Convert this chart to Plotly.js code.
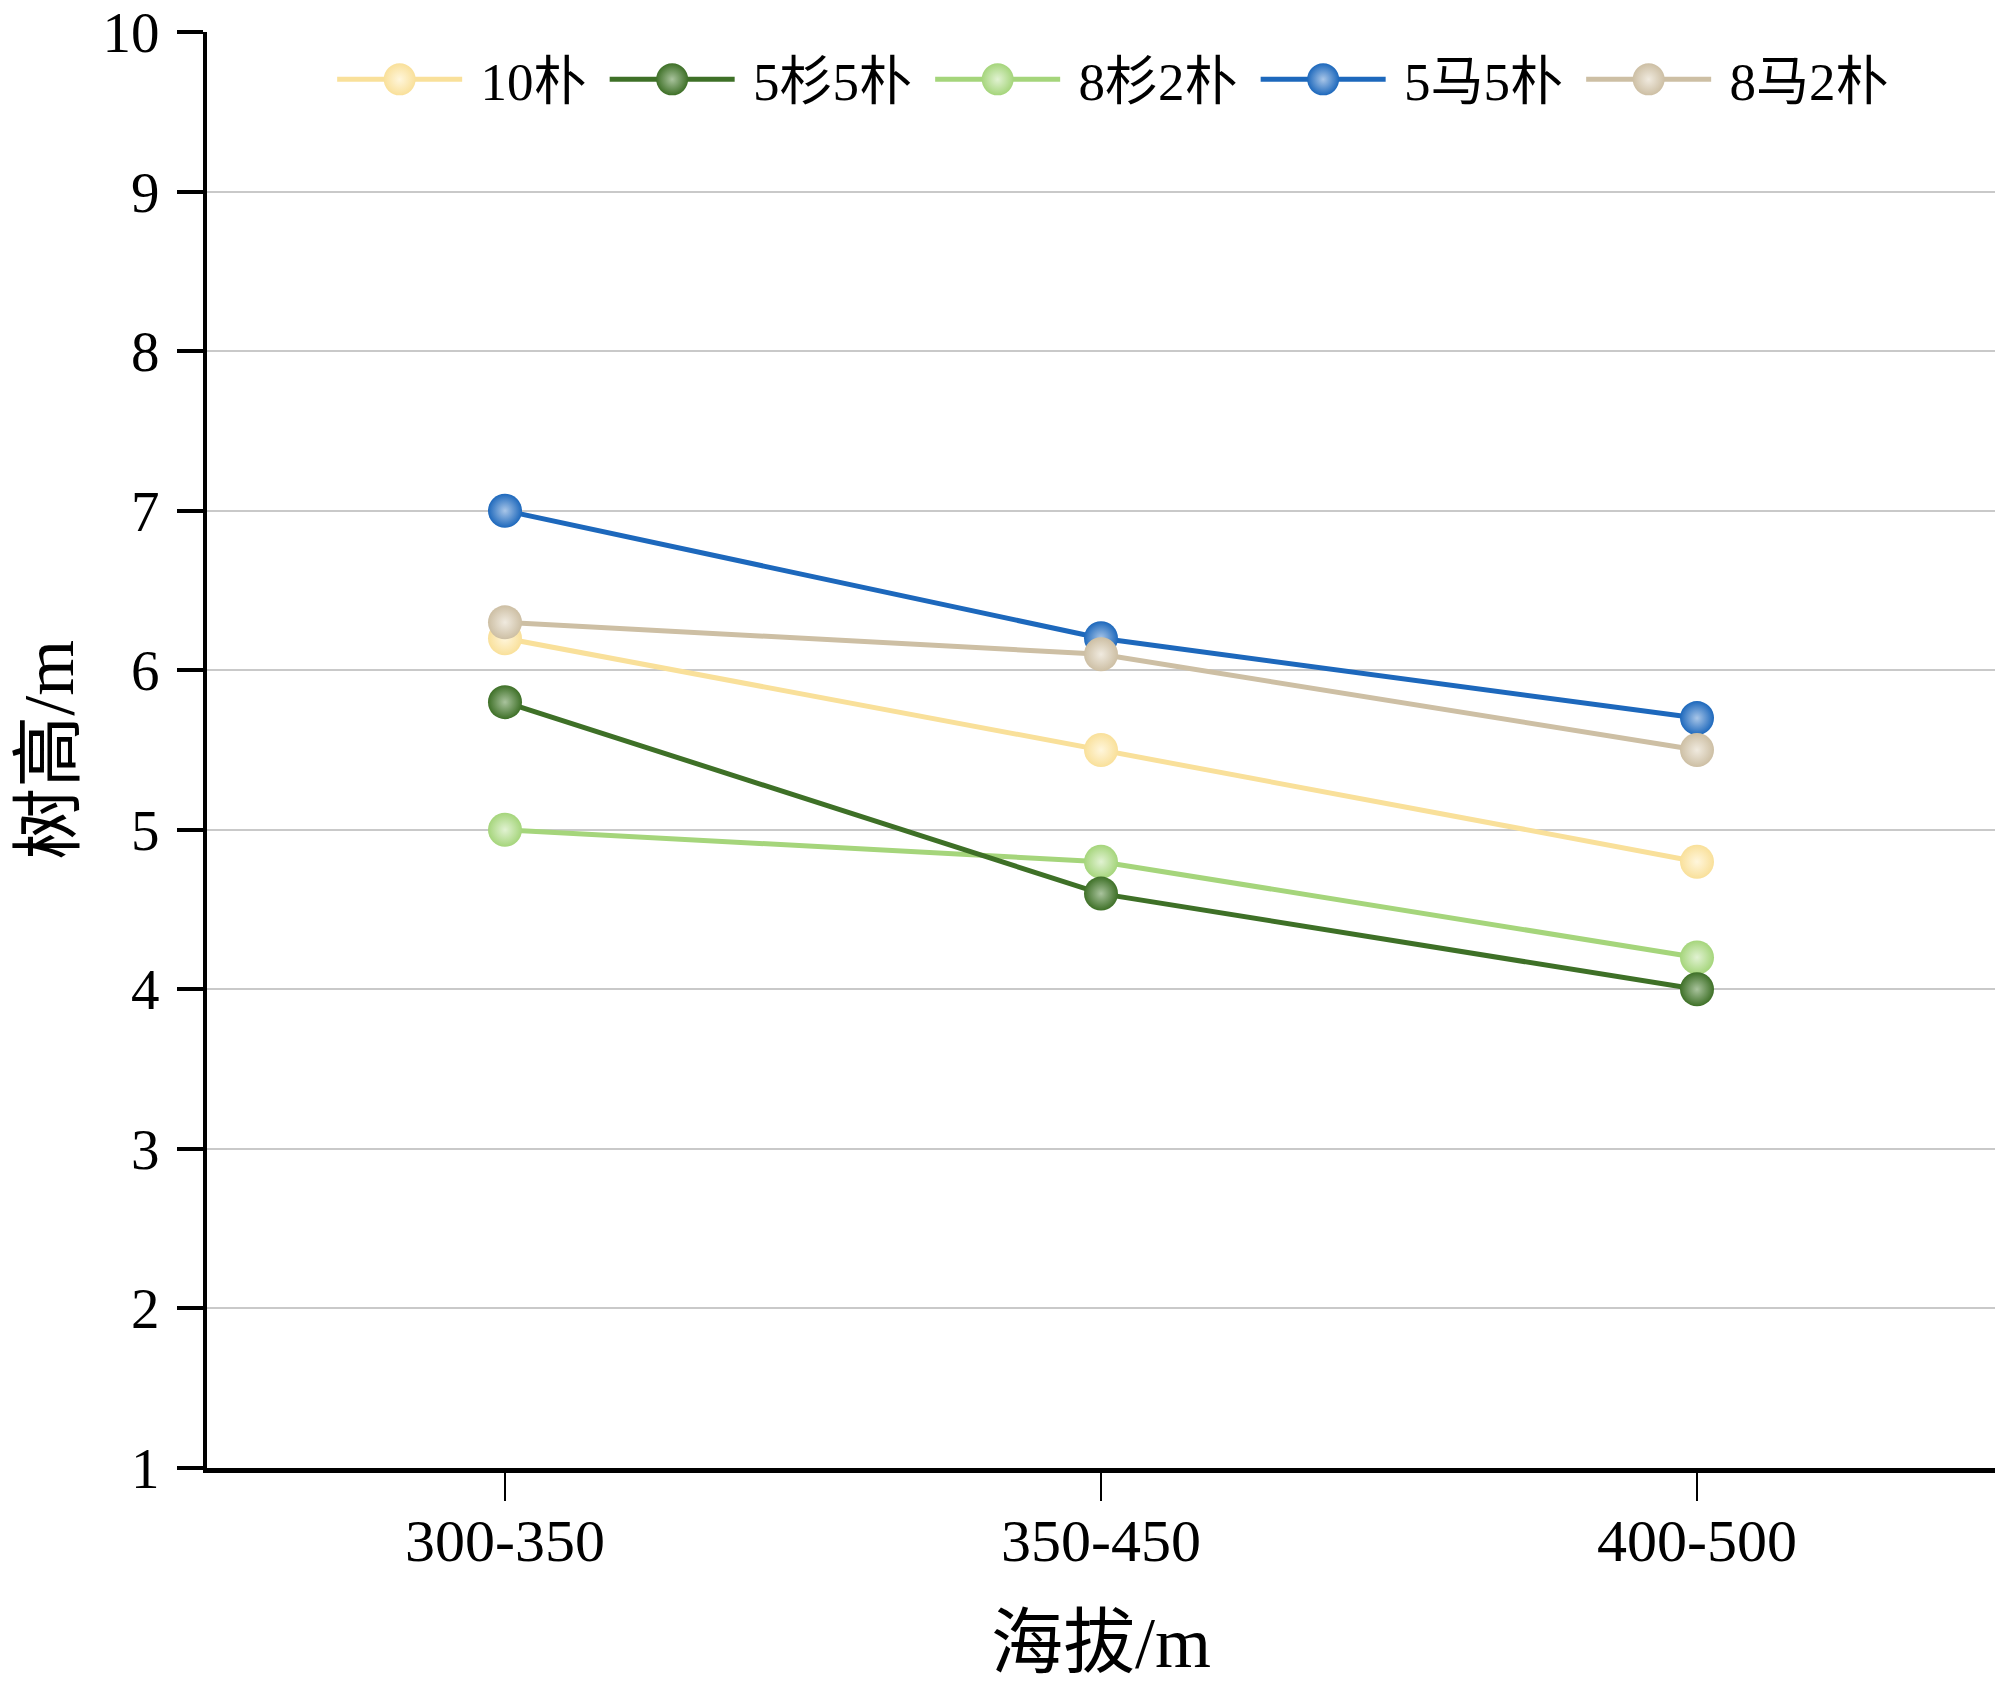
<!DOCTYPE html>
<html>
<head>
<meta charset="utf-8">
<script src="https://cdn.plot.ly/plotly-3.0.1.min.js"></script>
<style>html,body{margin:0;padding:0;background:#fff;}#chart{width:2000px;height:1690px;}</style>
</head>
<body>
<div id="chart"></div>
<script>
const categories = ['300-350', '350-450', '400-500'];
const seriesNames = ['10朴', '5杉5朴', '8杉2朴', '5马5朴', '8马2朴'];
const s10po = [6.2, 5.5, 4.8];
const s5sha5po = [5.8, 4.6, 4.0];
const s8sha2po = [5.0, 4.8, 4.2];
const s5ma5po = [7.0, 6.2, 5.7];
const s8ma2po = [6.3, 6.1, 5.5];
const yTicks = [1, 2, 3, 4, 5, 6, 7, 8, 9, 10];

const seriesValues = [s10po, s5sha5po, s8sha2po, s5ma5po, s8ma2po];
const colors = ['#F9E09A', '#3E7027', '#A5D57B', '#1D68BC', '#CDBFA4'];
const highlights = ['#FFF6DC', '#A9C39D', '#E1F2D2', '#A9C6E8', '#F0EADF'];
const drawOrder = [0, 2, 1, 3, 4];

const font = 'Liberation Serif, "Times New Roman", "Noto Sans CJK SC", serif';
const NB = '\u00A0';

const traces = drawOrder.map(i => ({
  type: 'scatter',
  mode: 'lines+markers',
  name: NB + seriesNames[i] + NB,
  x: categories,
  y: seriesValues[i],
  legendrank: i + 1,
  line: {color: colors[i], width: 5},
  marker: {
    color: colors[i], size: 34, line: {width: 0},
    gradient: {type: 'radial', color: highlights[i]}
  }
}));

const layout = {
  width: 2000, height: 1690,
  margin: {l: 207, r: 5, t: 32, b: 222},
  paper_bgcolor: '#fff', plot_bgcolor: '#fff',
  font: {family: font, size: 58, color: '#000'},
  showlegend: true,
  legend: {
    orientation: 'h', x: 0.07, xanchor: 'left', y: 0.967, yanchor: 'middle',
    font: {family: font, size: 53, color: '#000'},
    itemwidth: 125, bgcolor: 'rgba(0,0,0,0)'
  },
  xaxis: {
    type: 'category', range: [-0.5, 2.5],
    showline: true, linecolor: '#000', linewidth: 5,
    ticks: 'outside', ticklen: 28, tickwidth: 2, tickcolor: '#000',
    showgrid: false, zeroline: false,
    tickfont: {family: font, size: 60}, ticklabelstandoff: -12
  },
  yaxis: {
    range: [1, 10], tickvals: yTicks, ticklabeloverflow: 'allow',
    showline: true, linecolor: '#000', linewidth: 4,
    ticks: 'outside', ticklen: 26, tickwidth: 4, tickcolor: '#000',
    showgrid: true, gridcolor: '#C9C9C9', gridwidth: 2, zeroline: false,
    tickfont: {family: font, size: 57}, ticklabelstandoff: 6
  },
  annotations: [
    {text: '海拔/m', xref: 'paper', yref: 'paper', x: 0.5, y: -0.122, xanchor: 'center', yanchor: 'middle',
     showarrow: false, font: {family: font, size: 72}},
    {text: '树高/m', xref: 'paper', yref: 'paper', x: -0.0885, y: 0.5, xanchor: 'center', yanchor: 'middle',
     showarrow: false, textangle: -90, font: {family: font, size: 72}}
  ]
};

Plotly.newPlot('chart', traces, layout, {displayModeBar: false}).then(() => {
  document.querySelectorAll('#chart .legend .legendpoints path.scatterpts').forEach(p => {
    const t = p.getAttribute('transform') || '';
    p.setAttribute('transform', t + ' scale(2)');
  });
});
</script>
</body>
</html>
